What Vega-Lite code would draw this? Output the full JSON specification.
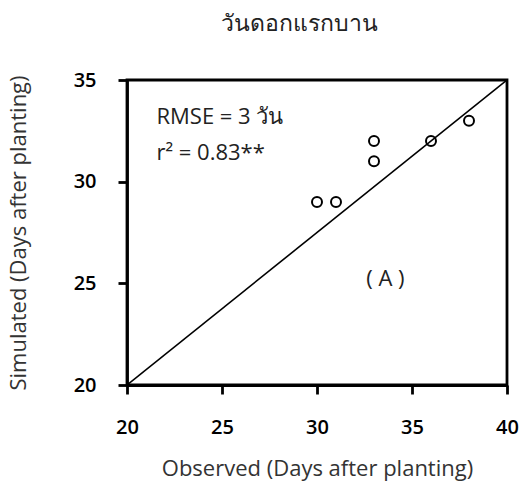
{
  "$schema": "https://vega.github.io/schema/vega-lite/v6.json",
  "width": 380,
  "height": 305,
  "autosize": "none",
  "padding": {"left": 127, "top": 80, "right": 15, "bottom": 101},
  "background": "white",
  "title": {
    "text": "วันดอกแรกบาน",
    "font": "Open Sans",
    "fontSize": 23,
    "fontWeight": "normal",
    "color": "#222222",
    "offset": 34,
    "dx": -18
  },
  "config": {
    "view": {"stroke": "black", "strokeWidth": 2.8},
    "axis": {
      "grid": false,
      "domainColor": "black",
      "domainWidth": 2.8,
      "tickColor": "black",
      "tickWidth": 2.8,
      "tickSize": 9,
      "labelFont": "Open Sans",
      "labelFontSize": 20,
      "labelFontWeight": 600,
      "labelColor": "black",
      "labelFlush": false,
      "labelOverlap": false,
      "titleFont": "Open Sans",
      "titleFontSize": 22,
      "titleFontWeight": "normal",
      "titleColor": "#333333"
    }
  },
  "datasets": {
    "points": [
      {"observed": 30, "simulated": 29},
      {"observed": 31, "simulated": 29},
      {"observed": 33, "simulated": 32},
      {"observed": 33, "simulated": 31},
      {"observed": 36, "simulated": 32},
      {"observed": 38, "simulated": 33}
    ],
    "refline": [
      {"observed": 20, "simulated": 20},
      {"observed": 40, "simulated": 35}
    ],
    "notes": [
      {"observed": 21.55, "simulated": 33.2, "label": "RMSE = 3 วัน", "anchor": "left"},
      {"observed": 21.55, "simulated": 31.4, "label": "r² = 0.83**", "anchor": "left"},
      {"observed": 33.6, "simulated": 25.2, "label": "( A )", "anchor": "center"}
    ]
  },
  "layer": [
    {
      "data": {"name": "refline"},
      "mark": {"type": "line", "color": "black", "strokeWidth": 1.6, "clip": true},
      "encoding": {
        "x": {
          "field": "observed",
          "type": "quantitative",
          "scale": {"domain": [20, 40], "nice": false, "zero": false},
          "axis": {"values": [20, 25, 30, 35, 40], "title": "Observed (Days after planting)", "labelPadding": 23, "titlePadding": 21}
        },
        "y": {
          "field": "simulated",
          "type": "quantitative",
          "scale": {"domain": [20, 35], "nice": false, "zero": false},
          "axis": {"values": [20, 25, 30, 35], "title": "Simulated (Days after planting)", "labelPadding": 22, "titlePadding": 43}
        }
      }
    },
    {
      "data": {"name": "points"},
      "mark": {"type": "point", "shape": "circle", "filled": false, "color": "black", "strokeWidth": 2, "size": 100, "opacity": 1},
      "encoding": {
        "x": {"field": "observed", "type": "quantitative"},
        "y": {"field": "simulated", "type": "quantitative"}
      }
    },
    {
      "data": {"name": "notes"},
      "transform": [{"filter": "datum.anchor == 'left'"}],
      "mark": {"type": "text", "align": "left", "baseline": "middle", "font": "Open Sans", "fontSize": 22, "color": "#222222"},
      "encoding": {
        "x": {"field": "observed", "type": "quantitative"},
        "y": {"field": "simulated", "type": "quantitative"},
        "text": {"field": "label"}
      }
    },
    {
      "data": {"name": "notes"},
      "transform": [{"filter": "datum.anchor == 'center'"}],
      "mark": {"type": "text", "align": "center", "baseline": "middle", "font": "Open Sans", "fontSize": 22, "color": "#222222"},
      "encoding": {
        "x": {"field": "observed", "type": "quantitative"},
        "y": {"field": "simulated", "type": "quantitative"},
        "text": {"field": "label"}
      }
    }
  ]
}
